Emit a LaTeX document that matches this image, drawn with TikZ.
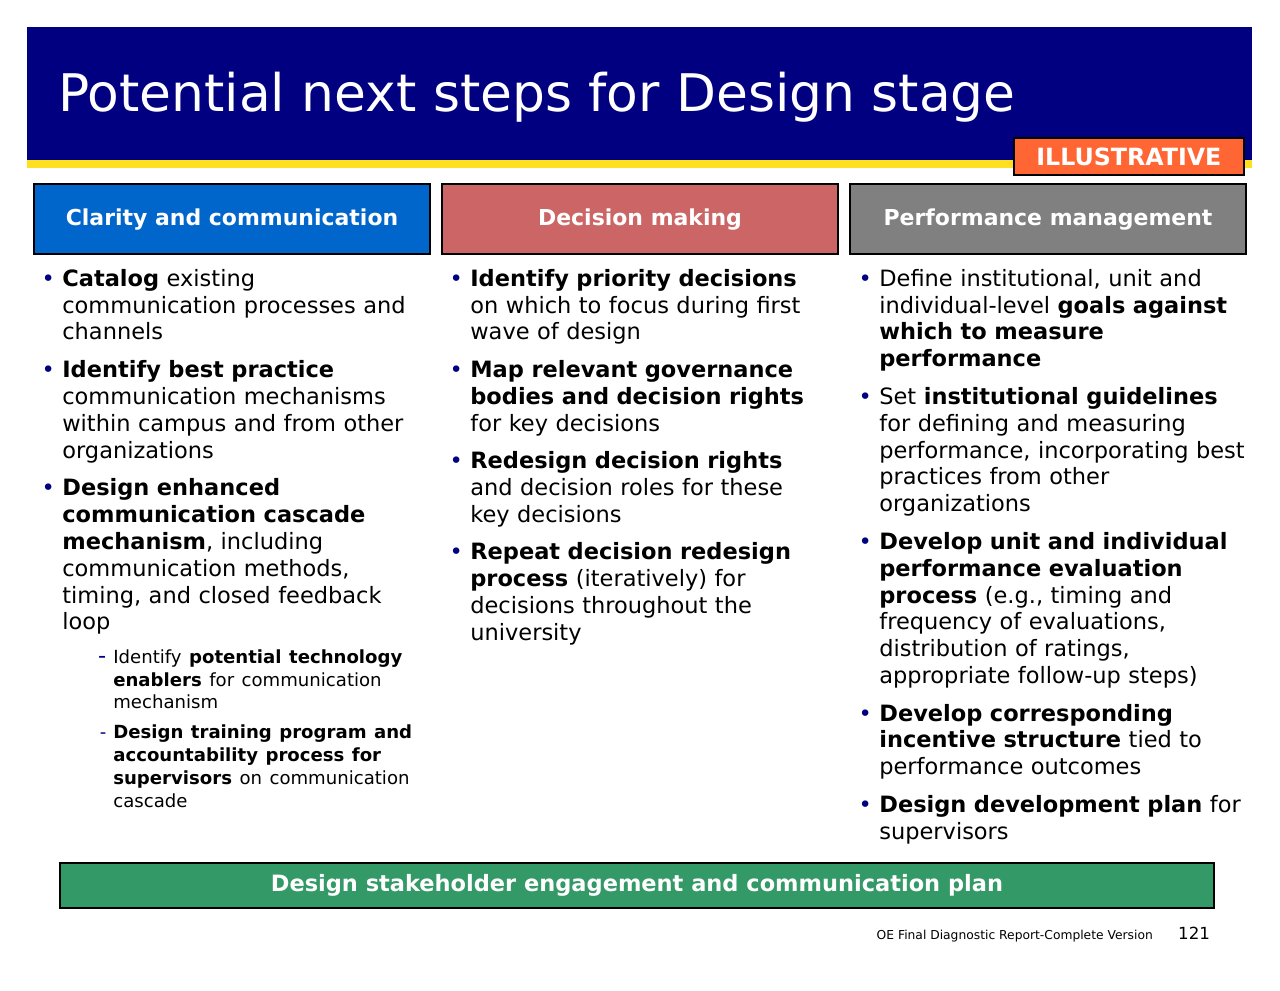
\documentclass[tikz,border=0pt]{standalone}
\usepackage{fontspec}
\setmainfont{DejaVu Sans}
\usepackage{enumitem}
\definecolor{navy}{RGB}{0,0,128}
\definecolor{hdrblue}{RGB}{0,102,204}
\definecolor{hdrred}{RGB}{204,102,102}
\definecolor{hdrgray}{RGB}{128,128,128}
\definecolor{plangreen}{RGB}{51,153,102}
\definecolor{stripe}{RGB}{255,224,32}
\definecolor{tagorange}{RGB}{255,102,51}
\newlist{pts}{itemize}{2}
\setlist[pts,1]{label=\textcolor{navy}{\textbullet},leftmargin=0.44cm,labelsep=0.15cm,itemsep=6pt,topsep=0pt,parsep=0pt}
\setlist[pts,2]{label=\textcolor{navy}{-},leftmargin=1.02cm,labelsep=0.14cm,itemsep=4pt,topsep=4pt,parsep=0pt}
\newcommand{\subsize}{\fontsize{10.3}{13}\selectfont}
\begin{document}
\begin{tikzpicture}[x=0.02cm,y=-0.02cm,
  colhead/.style={draw=black,line width=1.2pt,minimum width=7.92cm,minimum height=1.4cm,
    text=white,font=\fontsize{12.5}{14}\selectfont\bfseries,anchor=north west},
  column/.style={anchor=north west,inner sep=0pt,text width=7.45cm,
    font=\fontsize{12.8}{15.3}\selectfont,align=left}]
\useasboundingbox (0,0) rectangle (1280,990);
% banner
\fill[navy] (27,27) rectangle (1252,160);
\fill[stripe] (27,160) rectangle (1252,168);
\node[anchor=west,text=white,font=\fontsize{29.5}{33}\selectfont] (title) at (52,97)
  {Potential next steps for Design stage};
\node[draw=black,line width=1pt,fill=tagorange,text=white,font=\fontsize{13.5}{15}\selectfont\bfseries,
  minimum width=4.6cm,minimum height=0.74cm,anchor=north west] (tag) at (1013,137) {ILLUSTRATIVE};
% column headers
\node[colhead,fill=hdrblue] (clarity) at (33,183) {Clarity and communication};
\node[colhead,fill=hdrred] (decision) at (441,183) {Decision making};
\node[colhead,fill=hdrgray] (perf) at (849,183) {Performance management};
% columns
\node[column] (claritytext) at (40,259) {%
\begin{pts}
\item \textbf{Catalog} existing communication processes and channels
\item \textbf{Identify best practice} communication mechanisms within campus and from other organizations
\item \textbf{Design enhanced communication cascade mechanism}, including communication methods, timing, and closed feedback loop\par
  \begin{pts}
  \item \subsize Identify \textbf{potential technology enablers} for communication mechanism\par
  \item \subsize\textbf{Design training program and accountability process for supervisors} on communication cascade\par
  \end{pts}
\end{pts}};
\node[column] (decisiontext) at (448,259) {%
\begin{pts}
\item \textbf{Identify priority decisions} on which to focus during first wave of design
\item \textbf{Map relevant governance bodies and decision rights} for key decisions
\item \textbf{Redesign decision rights} and decision roles for these key decisions
\item \textbf{Repeat decision redesign process} (iteratively) for decisions throughout the university
\end{pts}};
\node[column,text width=7.8cm] (perftext) at (857,259) {%
\begin{pts}
\item Define institutional, unit and individual-level \textbf{goals against which to measure performance}
\item Set \textbf{institutional guidelines} for defining and measuring performance, incorporating best practices from other organizations
\item \textbf{Develop unit and individual performance evaluation process} (e.g., timing and frequency of evaluations, distribution of ratings, appropriate follow-up steps)
\item \textbf{Develop corresponding incentive structure} tied to performance outcomes
\item \textbf{Design development plan} for supervisors
\end{pts}};
% bottom bar
\node[draw=black,line width=1.2pt,fill=plangreen,text=white,font=\fontsize{12.8}{14}\selectfont\bfseries,
  minimum width=23.08cm,minimum height=0.9cm,anchor=north west] (plan) at (59,862)
  {Design stakeholder engagement and communication plan};
% footer
\node[anchor=base east,font=\fontsize{7}{8}\selectfont] (footer) at (1159,939) {OE Final Diagnostic Report-Complete Version};
\node[anchor=base west,font=\fontsize{9.5}{10}\selectfont] (page) at (1172,939) {121};
\end{tikzpicture}
\end{document}
